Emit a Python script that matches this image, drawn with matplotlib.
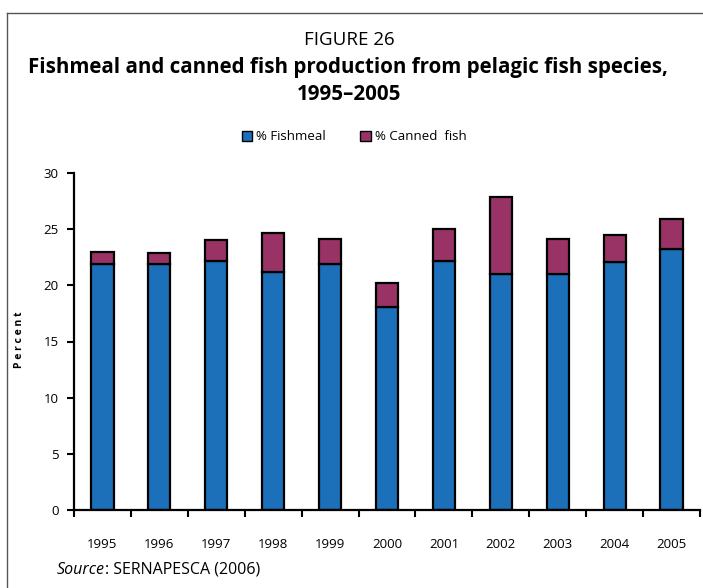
import numpy as np
import matplotlib.pyplot as plt
from matplotlib.lines import Line2D

# data
years = ['1995', '1996', '1997', '1998', '1999', '2000',
         '2001', '2002', '2003', '2004', '2005']
fishmeal = [21.9, 21.9, 22.2, 21.2, 21.9, 18.1, 22.2, 21.0, 21.0, 22.1, 23.2]
canned = [1.1, 1.0, 1.8, 3.5, 2.2, 2.1, 2.8, 6.9, 3.1, 2.4, 2.7]

blue = '#1c6fb9'
purple = '#993366'

plt.rcParams['font.family'] = ['Open Sans', 'DejaVu Sans']

fig = plt.figure(figsize=(7.03, 5.88), dpi=100)
ax = fig.add_axes([74/703, 1 - 510/588, 626/703, 337/588])

x = np.arange(len(years))
ax.bar(x, fishmeal, width=0.39, color=blue, edgecolor='black', linewidth=1.6)
ax.bar(x, canned, width=0.39, bottom=fishmeal, color=purple, edgecolor='black',
       linewidth=1.6)

ax.set_xlim(-0.5, len(years) - 0.5)
ax.set_ylim(0, 30)
ax.set_yticks(range(0, 31, 5))
ax.set_xticks(x)
ax.set_xticklabels(years)
ax.set_xticks(np.arange(-0.5, len(years), 1), minor=True)
ax.tick_params(axis='x', which='major', length=0, pad=20, labelsize=9.5)
ax.tick_params(axis='x', which='minor', length=5, width=1.5, direction='out')
ax.tick_params(axis='y', length=5, width=1.5, direction='out', labelsize=9.5, pad=6)
for s in ['top', 'right']:
    ax.spines[s].set_visible(False)
ax.spines['left'].set_linewidth(1.6)
ax.spines['bottom'].set_linewidth(1.6)

fig.text(20/703, 1 - 340/588, 'P e r c e n t', rotation=90, ha='center', va='center',
         fontsize=7.5, fontweight='bold')

# titles
fig.text(349/703, 1 - 40/588, 'FIGURE 26', ha='center', va='center', fontsize=13.5)
fig.text(348/703, 1 - 68/588, 'Fishmeal and canned fish production from pelagic fish species,',
         ha='center', va='center', fontsize=14.8, fontweight='bold')
fig.text(349/703, 1 - 95/588, '1995\u20132005', ha='center', va='center',
         fontsize=14.8, fontweight='bold')

# legend
handles = [plt.Rectangle((0, 0), 1, 1, facecolor=blue, edgecolor='black', linewidth=1),
           plt.Rectangle((0, 0), 1, 1, facecolor=purple, edgecolor='black', linewidth=1)]
fig.legend(handles, ['% Fishmeal', '% Canned  fish'], loc='center',
           bbox_to_anchor=(354/703, 1 - 137/588), ncol=2, frameon=False,
           fontsize=9.5, handlelength=0.8, handleheight=0.8, handletextpad=0.3,
           columnspacing=2.6)

# source
src = fig.text(57/703, 1 - 570/588, 'Source', style='italic', ha='left', va='center',
               fontsize=11.5)
fig.canvas.draw()
bb = src.get_window_extent(fig.canvas.get_renderer())
fig.text(bb.x1 / fig.bbox.width, 1 - 570/588, ': SERNAPESCA (2006)', ha='left',
         va='center', fontsize=11.5)

# frame
fig.add_artist(Line2D([7/703, 1], [1 - 13/588, 1 - 13/588], color='#555555', linewidth=1))
fig.add_artist(Line2D([7/703, 7/703], [0, 1 - 13/588], color='#555555', linewidth=1))

plt.savefig('out.png', dpi=100)
